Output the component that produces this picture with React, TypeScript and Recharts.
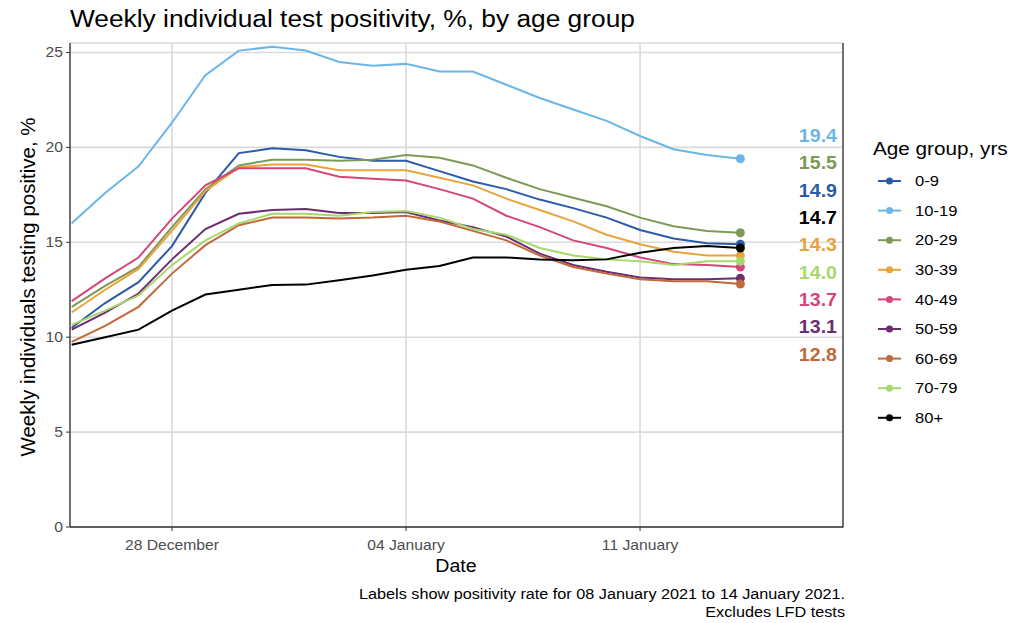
import { CartesianGrid, Line, LineChart, XAxis, YAxis } from "recharts";

// one point per day, 25 Dec 2020 .. 14 Jan 2021
const dates = [
  "25 Dec", "26 Dec", "27 Dec", "28 Dec", "29 Dec", "30 Dec", "31 Dec",
  "01 Jan", "02 Jan", "03 Jan", "04 Jan", "05 Jan", "06 Jan", "07 Jan",
  "08 Jan", "09 Jan", "10 Jan", "11 Jan", "12 Jan", "13 Jan", "14 Jan",
];

const xTicks = [3, 10, 17];
const xTickLabels = ["28 December", "04 January", "11 January"];
const yTicks = [0, 5, 10, 15, 20, 25];

const groups = ["0-9", "10-19", "20-29", "30-39", "40-49", "50-59", "60-69", "70-79", "80+"];
const colors = ["#2a5ba8", "#6cb6e6", "#7d9a55", "#e8a43c", "#d4467c", "#6d2c70", "#c2693a", "#a6d86c", "#000000"];

const age0to9 = [10.5, 11.8, 12.9, 14.8, 17.6, 19.7, 19.95, 19.85, 19.5, 19.3, 19.3, 18.75, 18.2, 17.8, 17.25, 16.8, 16.3, 15.65, 15.2, 14.95, 14.9];
const age10to19 = [16.0, 17.6, 19.0, 21.3, 23.8, 25.1, 25.3, 25.1, 24.5, 24.3, 24.4, 24.0, 24.0, 23.3, 22.6, 22.0, 21.4, 20.6, 19.9, 19.6, 19.4];
const age20to29 = [11.6, 12.7, 13.7, 15.8, 17.8, 19.05, 19.35, 19.35, 19.3, 19.35, 19.6, 19.45, 19.05, 18.4, 17.8, 17.35, 16.9, 16.3, 15.85, 15.6, 15.5];
const age30to39 = [11.3, 12.5, 13.6, 15.6, 17.7, 18.95, 19.1, 19.1, 18.8, 18.8, 18.8, 18.4, 18.0, 17.3, 16.7, 16.1, 15.4, 14.9, 14.5, 14.3, 14.3];
const age40to49 = [11.9, 13.1, 14.2, 16.25, 18.0, 18.9, 18.9, 18.9, 18.45, 18.35, 18.25, 17.8, 17.3, 16.4, 15.8, 15.1, 14.7, 14.2, 13.85, 13.8, 13.7];
const age50to59 = [10.4, 11.3, 12.3, 14.1, 15.7, 16.5, 16.7, 16.75, 16.55, 16.55, 16.6, 16.15, 15.8, 15.3, 14.4, 13.8, 13.45, 13.15, 13.05, 13.05, 13.1];
const age60to69 = [9.75, 10.6, 11.6, 13.35, 14.85, 15.9, 16.3, 16.3, 16.25, 16.3, 16.4, 16.1, 15.6, 15.1, 14.3, 13.7, 13.35, 13.05, 12.95, 12.95, 12.8];
const age70to79 = [10.65, 11.4, 12.2, 13.8, 15.1, 16.0, 16.5, 16.5, 16.4, 16.6, 16.65, 16.3, 15.7, 15.4, 14.7, 14.3, 14.1, 14.0, 13.8, 14.0, 14.0];
const age80plus = [9.6, 10.0, 10.4, 11.4, 12.25, 12.5, 12.75, 12.77, 13.0, 13.25, 13.55, 13.75, 14.2, 14.2, 14.1, 14.05, 14.1, 14.45, 14.7, 14.8, 14.7];

const seriesValues = [age0to9, age10to19, age20to29, age30to39, age40to49, age50to59, age60to69, age70to79, age80plus];

const series = groups.map((name, i) => ({
  key: `g${i}`,
  name,
  color: colors[i],
  values: seriesValues[i],
}));

const data = dates.map((date, day) => {
  const row: Record<string, number | string> = { day, date };
  series.forEach((s) => {
    row[s.key] = s.values[day];
  });
  return row;
});

const last = dates.length - 1;
const font = "'Liberation Sans', Arial, sans-serif";
const stretch = 1.12; // the reference text is a little wider than Arial

// end labels are stacked (repelled) in order of the final value
const endLabels = [...series].sort((a, b) => b.values[last] - a.values[last]);

function tickLabel(v: number) {
  const i = xTicks.indexOf(v);
  return i >= 0 ? xTickLabels[i] : "";
}

function SText({ x, y, anchor = "start", children, ...rest }: any) {
  return (
    <text
      transform={`translate(${x} ${y}) scale(${stretch} 1)`}
      textAnchor={anchor}
      fontFamily={font}
      {...rest}
    >
      {children}
    </text>
  );
}

function XTick({ x, y, payload }: any) {
  return (
    <SText x={x} y={y} anchor="middle" dy="0.71em" fontSize={14} fill="#4d4d4d">
      {tickLabel(payload.value)}
    </SText>
  );
}

function YTick({ x, y, payload }: any) {
  return (
    <SText x={x} y={y} anchor="end" dy="0.355em" fontSize={14} fill="#4d4d4d">
      {payload.value}
    </SText>
  );
}

export default function App() {
  return (
    <div
      style={{
        position: "absolute",
        left: 0,
        top: 0,
        width: 1015,
        height: 623,
        background: "#fff",
        fontFamily: font,
      }}
    >
      <LineChart
        width={1015}
        height={623}
        data={data}
        margin={{ top: 43, right: 172, bottom: 66, left: 20 }}
      >
        <CartesianGrid stroke="#dadada" strokeWidth={1.6} />
        <XAxis
          dataKey="day"
          type="number"
          domain={[-0.05, 23.07]}
          ticks={xTicks}
          tickFormatter={tickLabel}
          height={30}
          tickSize={4}
          tickMargin={9}
          axisLine={{ stroke: "#333", strokeWidth: 1.3 }}
          tickLine={{ stroke: "#333" }}
          tick={<XTick />}
        />
        <YAxis
          type="number"
          domain={[0, 25.5]}
          ticks={yTicks}
          width={50}
          tickSize={4}
          tickMargin={3}
          axisLine={{ stroke: "#333", strokeWidth: 1.3 }}
          tickLine={{ stroke: "#333" }}
          tick={<YTick />}
        />
        {series.map((s) => (
          <Line
            key={s.key}
            type="linear"
            dataKey={s.key}
            name={s.name}
            stroke={s.color}
            strokeWidth={2}
            isAnimationActive={false}
            dot={(p: any) =>
              p.index === last ? (
                <circle key={`${s.key}-end`} cx={p.cx} cy={p.cy} r={4.5} fill={s.color} />
              ) : (
                <g key={`${s.key}-${p.index}`} />
              )
            }
            activeDot={false}
          />
        ))}
      </LineChart>

      <svg
        width={1015}
        height={623}
        style={{ position: "absolute", left: 0, top: 0, pointerEvents: "none" }}
        fontFamily={font}
      >
        {/* right panel border */}
        <line x1={843} y1={43} x2={843} y2={527.5} stroke="#333" strokeWidth={1.3} />

        <SText x={70} y={27} fontSize={23.5} fill="#000">
          Weekly individual test positivity, %, by age group
        </SText>

        <text
          x={0}
          y={0}
          fontSize={20.5}
          fill="#000"
          textAnchor="middle"
          transform="translate(35 287) rotate(-90)"
        >
          Weekly individuals testing positive, %
        </text>

        <SText x={456} y={572} anchor="middle" fontSize={17.5} fill="#000">
          Date
        </SText>

        <SText x={845} y={599} anchor="end" fontSize={14.5} fill="#000">
          Labels show positivity rate for 08 January 2021 to 14 January 2021.
        </SText>
        <SText x={845} y={617} anchor="end" fontSize={14.5} fill="#000">
          Excludes LFD tests
        </SText>

        {endLabels.map((s, i) => (
          <SText
            key={s.key}
            x={837}
            y={136 + i * 27.3}
            anchor="end"
            dy="0.35em"
            fontSize={17.5}
            fontWeight="bold"
            fill={s.color}
          >
            {s.values[last].toFixed(1)}
          </SText>
        ))}

        <SText x={873} y={155} fontSize={18.5} fill="#000">
          Age group, yrs
        </SText>
        {series.map((s, i) => {
          const y = 181 + i * 29.6;
          return (
            <g key={s.key}>
              <line x1={878} x2={901} y1={y} y2={y} stroke={s.color} strokeWidth={2} />
              <circle cx={889.5} cy={y} r={3.5} fill={s.color} />
              <SText x={915} y={y} dy="0.35em" fontSize={14.8} fill="#000">
                {s.name}
              </SText>
            </g>
          );
        })}
      </svg>
    </div>
  );
}
